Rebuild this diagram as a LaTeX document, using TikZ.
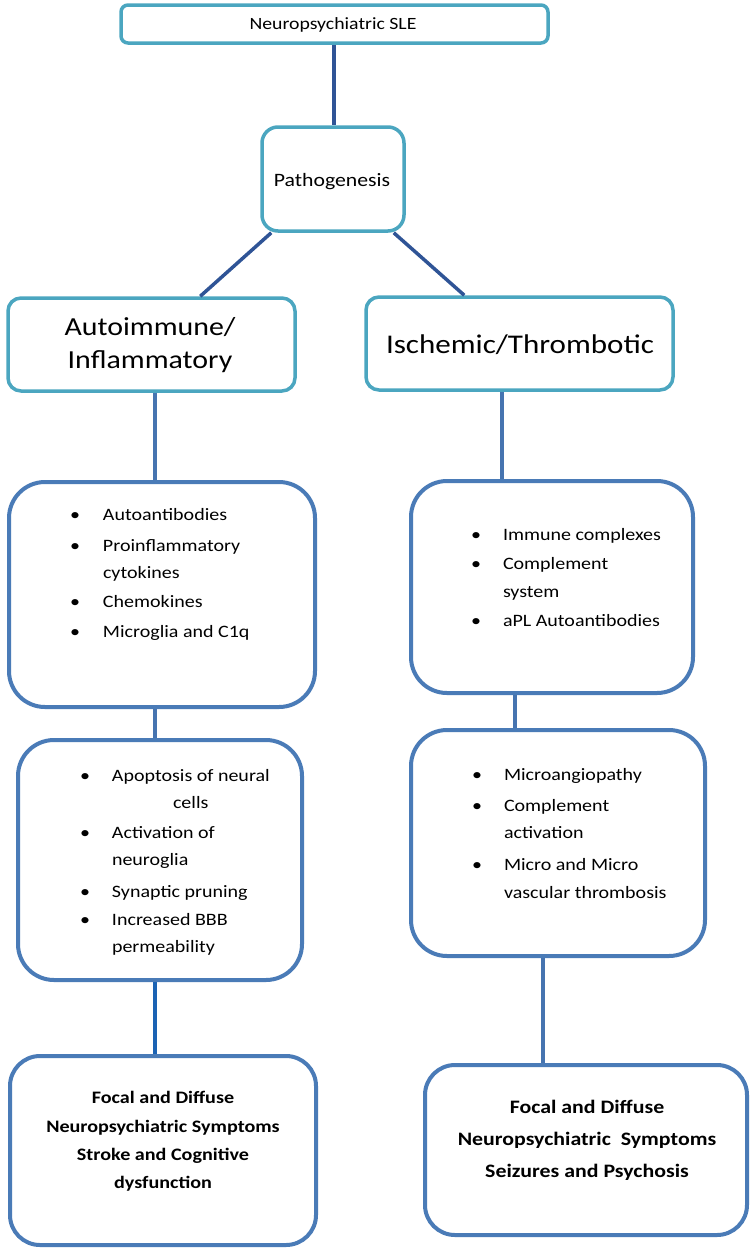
\documentclass[tikz,border=0pt]{standalone}
\usepackage{fontspec}
\setmainfont{Carlito}[FakeStretch=1.15]
\usetikzlibrary{calc}
\definecolor{tealc}{HTML}{4BA6C0}
\definecolor{bluec}{HTML}{4A7BB7}
\definecolor{darkc}{HTML}{2F5496}
\definecolor{linkc}{HTML}{4674B0}
\definecolor{deepc}{HTML}{1B63B4}
\tikzset{
  tealbox/.style={draw=tealc, line width=3.5pt, fill=white, inner sep=0pt},
  bluebox/.style={draw=bluec, line width=4pt, fill=white, inner sep=0pt, rounded corners=36pt},
  txt/.style={inner sep=0pt, outer sep=0pt, text=black},
  conn/.style={line width=3.5pt},
}
\newcommand\bl[1]{\makebox[#1][l]{\textbullet}}
\begin{document}
\begin{tikzpicture}[x=1pt,y=-1pt]
\useasboundingbox (0,0) rectangle (750,1248);
% boxes
\node[tealbox, rounded corners=7pt, minimum width=427pt, minimum height=38pt] (top) at (334.5,24) {};
\node[tealbox, rounded corners=16pt, minimum width=142pt, minimum height=104pt] (path) at (333,179) {};
\node[tealbox, rounded corners=13pt, minimum width=287pt, minimum height=93pt] (auto) at (151.5,344.5) {};
\node[tealbox, rounded corners=13pt, minimum width=307pt, minimum height=93pt] (isch) at (519.5,343.5) {};
\node[bluebox, minimum width=306pt, minimum height=225pt] (L1) at (162,594.5) {};
\node[bluebox, minimum width=284pt, minimum height=240pt] (L2) at (160,860) {};
\node[bluebox, rounded corners=30pt, minimum width=306pt, minimum height=189pt] (L3) at (163,1150.5) {};
\node[bluebox, minimum width=282pt, minimum height=212pt] (R1) at (552,587) {};
\node[bluebox, minimum width=294pt, minimum height=226pt] (R2) at (558,843) {};
\node[bluebox, rounded corners=30pt, minimum width=322pt, minimum height=170pt] (R3) at (586,1150) {};
% connector x positions
\coordinate (xa) at (334,0);
\coordinate (xl) at (155,0);
\coordinate (xr1) at (502,0);
\coordinate (xr2) at (515,0);
\coordinate (xr3) at (543,0);
% connectors
\draw[conn, darkc] (xa |- top.south) -- (xa |- path.north);
\draw[conn, darkc] ($(path.south west)+(11,0)$) -- ($(auto.north west)+(194,0)$);
\draw[conn, darkc] ($(path.south east)+(-12,0)$) -- ($(isch.north west)+(100,0)$);
\draw[conn, linkc] (xl |- auto.south) -- (xl |- L1.north);
\draw[conn, linkc] (xl |- L1.south) -- (xl |- L2.north);
\draw[conn, deepc, line width=4pt] (xl |- L2.south) -- (xl |- L3.north);
\draw[conn, linkc] (xr1 |- isch.south) -- (xr1 |- R1.north);
\draw[conn, linkc] (xr2 |- R1.south) -- (xr2 |- R2.north);
\draw[conn, linkc] (xr3 |- R2.south) -- (xr3 |- R3.north);
% texts
\node[txt, anchor=base, font=\fontsize{17.2}{20}\selectfont] (ttop) at (333,29) {Neuropsychiatric SLE};
\node[txt, anchor=base, font=\fontsize{18.9}{22}\selectfont] (tpath) at (332,186) {Pathogenesis};
\node[txt, anchor=base, font=\fontsize{26}{30}\selectfont] (tauto1) at (150,335) {Autoimmune/};
\node[txt, anchor=base, font=\fontsize{26}{30}\selectfont] (tauto2) at (150,368) {Inflammatory};
\node[txt, anchor=base, font=\fontsize{27}{30}\selectfont] (tisch) at (520,353) {Ischemic/Thrombotic};
% L1 list
\begin{scope}[every node/.style={txt, anchor=base west, font=\fontsize{17.4}{20}\selectfont}]
\node (a1) at (70,520) {\bl{33pt}Autoantibodies};
\node (a2) at (70,551) {\bl{33pt}Proinflammatory};
\node (a3) at (103,578) {cytokines};
\node (a4) at (70,607) {\bl{33pt}Chemokines};
\node (a5) at (70,637) {\bl{33pt}Microglia and C1q};
% R1 list
\node (b1) at (471,540) {\bl{32pt}Immune complexes};
\node (b2) at (471,569) {\bl{32pt}Complement};
\node (b3) at (503,597) {system};
\node (b4) at (471,626) {\bl{32pt}aPL Autoantibodies};
% L2 list
\node (c1) at (80,781) {\bl{32pt}Apoptosis of neural};
\node (c2) at (173,808) {cells};
\node (c3) at (80,838) {\bl{32pt}Activation of};
\node (c4) at (112,865) {neuroglia};
\node (c5) at (80,897) {\bl{32pt}Synaptic pruning};
\node (c6) at (80,925) {\bl{32pt}Increased BBB};
\node (c7) at (112,952) {permeability};
% R2 list
\node (d1) at (472,780) {\bl{32pt}Microangiopathy};
\node (d2) at (472,811) {\bl{32pt}Complement};
\node (d3) at (504,838) {activation};
\node (d4) at (472,870) {\bl{32pt}Micro and Micro};
\node (d5) at (504,898) {vascular thrombosis};
\end{scope}
% bottom texts
\begin{scope}[every node/.style={txt, anchor=base, font=\bfseries\fontsize{17.5}{20}\selectfont}]
\node (e1) at (163,1103) {Focal and Diffuse};
\node (e2) at (163,1132) {Neuropsychiatric Symptoms};
\node (e3) at (163,1160) {Stroke and Cognitive};
\node (e4) at (163,1188) {dysfunction};
\end{scope}
\begin{scope}[every node/.style={txt, anchor=base, font=\bfseries\fontsize{19}{22}\selectfont}]
\node (f1) at (587,1113) {Focal and Diffuse};
\node (f2) at (587,1145) {Neuropsychiatric\ \ Symptoms};
\node (f3) at (587,1177) {Seizures and Psychosis};
\end{scope}
\end{tikzpicture}
\end{document}
